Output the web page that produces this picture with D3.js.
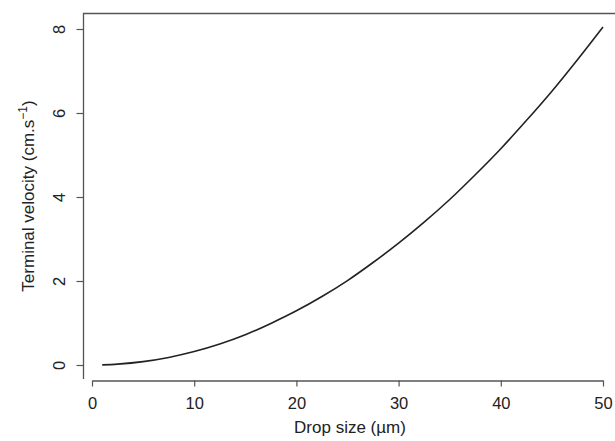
<!DOCTYPE html>
<html><head><meta charset="utf-8">
<script src="https://cdn.jsdelivr.net/npm/d3@7"></script>
<style>body{margin:0;background:#fff}svg{display:block}text{font-family:"Liberation Sans",Arial,sans-serif;fill:#222}</style>
</head><body><svg id="c" width="615" height="441"></svg>
<script>
const dropSize = [1, 2.5, 5, 7.5, 10, 12.5, 15, 17.5, 20, 22.5, 25, 27.5, 30, 32.5, 35, 37.5, 40, 42.5, 45, 47.5, 50];
const velocity = [0.003, 0.02, 0.08, 0.18, 0.32, 0.50, 0.72, 0.99, 1.29, 1.63, 2.01, 2.44, 2.90, 3.40, 3.94, 4.53, 5.15, 5.82, 6.52, 7.27, 8.05];
const xTicks = [0, 10, 20, 30, 40, 50];
const yTicks = [0, 2, 4, 6, 8];

const svg = d3.select("#c");
const x = d3.scaleLinear().domain([0, 50]).range([92, 603]);
const y = d3.scaleLinear().domain([0, 8]).range([365, 29]);

// box (left + top)
svg.append("path").attr("d", "M83.5,379V13.5H615").attr("fill","none").attr("stroke","#555").attr("stroke-width",1.3);

// x axis
const gx = svg.append("g").attr("transform","translate(0,380.5)")
  .call(d3.axisBottom(x).tickValues(xTicks).tickSize(6).tickSizeOuter(0).tickPadding(6).tickFormat(d3.format("d")));
gx.select(".domain").attr("stroke","#555").attr("stroke-width",1.3);
gx.selectAll(".tick line").attr("stroke","#555").attr("stroke-width",1.2);
gx.selectAll("text").attr("dy",null).attr("y",28).style("font-size","16.5px").attr("fill","#222");

// y axis
const gy = svg.append("g").attr("transform","translate(83.5,0)")
  .call(d3.axisLeft(y).tickValues(yTicks).tickSize(7).tickFormat(d3.format("d")));
gy.select(".domain").remove();
gy.selectAll(".tick line").attr("stroke","#555").attr("stroke-width",1.2);
gy.selectAll(".tick text").attr("x",null).attr("dy",null)
  .attr("transform","translate(-24,0) rotate(-90)").attr("text-anchor","middle").attr("dy","0.35em")
  .style("font-size","16.5px").attr("fill","#222");

// curve
const pts = dropSize.map((d,i)=>[d, velocity[i]]);
svg.append("path").datum(pts)
  .attr("d", d3.line().x(d=>x(d[0])).y(d=>y(d[1])).curve(d3.curveCatmullRom))
  .attr("fill","none").attr("stroke","#222").attr("stroke-width",1.6);

// axis titles
svg.append("text").attr("x", 350).attr("y", 433).attr("text-anchor","middle")
  .style("font-size","17px").text("Drop size (µm)");
const yt = svg.append("text").attr("transform","translate(34,196) rotate(-90)").attr("text-anchor","middle").style("font-size","17px");
yt.append("tspan").text("Terminal velocity (cm.s");
yt.append("tspan").attr("dy","-7").style("font-size","12px").text("−1");
yt.append("tspan").attr("dy","7").text(")");
</script></body></html>
